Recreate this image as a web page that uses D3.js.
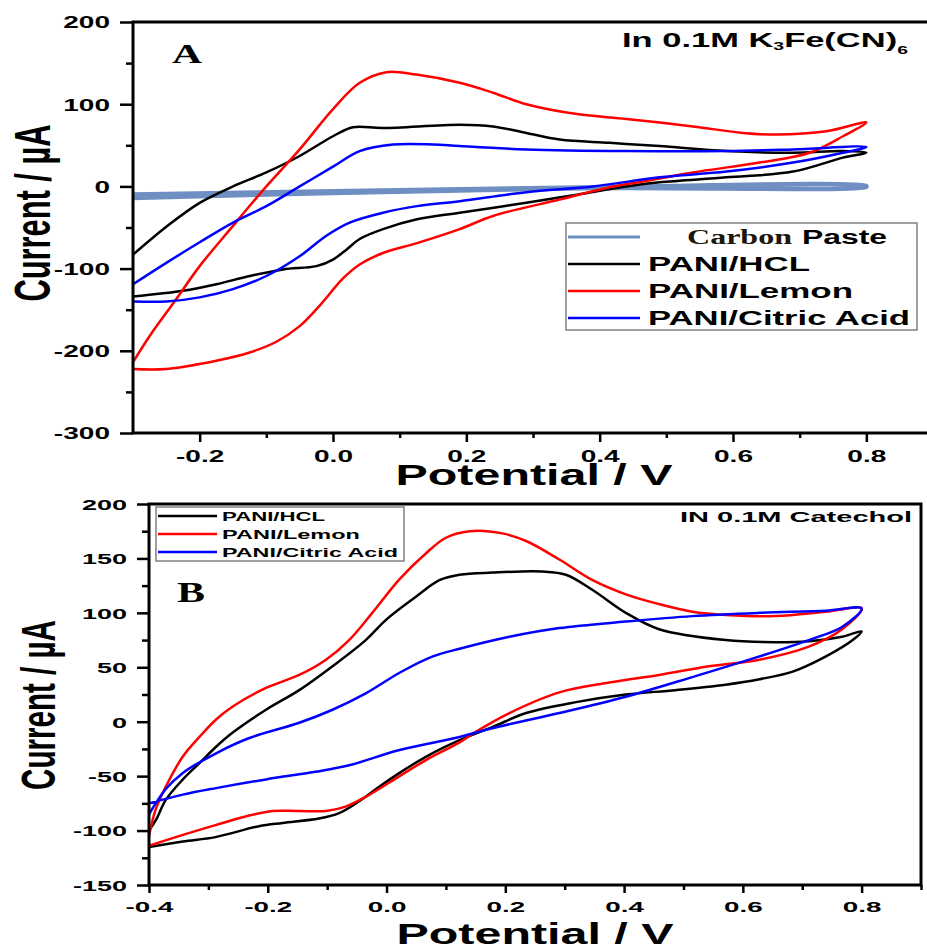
<!DOCTYPE html>
<html>
<head>
<meta charset="utf-8">
<script src="https://cdn.jsdelivr.net/npm/d3@7"></script>
<style>
  body { margin: 0; background: #fff; }
  svg { display: block; }
</style>
</head>
<body>
<div id="chart"></div>
<script>
// ---- data: cyclic voltammograms, [potential V, current uA], forward scan then reverse scan ----

// Panel A, in 0.1M K3Fe(CN)6
const carbonA = [[-0.30, -10], [0.00, -6], [0.40, -1], [0.80, 0.5],
                 [0.80, -0.5], [0.40, -2], [0.00, -8], [-0.30, -14]]
const hclA = [[-0.30, -83], [-0.25, -49], [-0.20, -20], [-0.15, 0], [-0.10, 17], [-0.05, 37], [0.00, 61], [0.03, 72],
              [0.075, 71], [0.19, 75], [0.24, 73], [0.29, 65], [0.34, 57], [0.415, 53], [0.49, 49], [0.59, 43],
              [0.69, 41], [0.765, 43], [0.80, 41],
              [0.765, 35], [0.69, 18], [0.59, 11], [0.49, 5], [0.44, 0], [0.366, -10], [0.29, -20], [0.19, -32],
              [0.126, -40], [0.075, -52], [0.04, -64], [0.02, -77], [0.00, -89], [-0.025, -97], [-0.075, -101],
              [-0.125, -109], [-0.175, -119], [-0.225, -127], [-0.30, -134]]
const lemonA = [[-0.30, -214], [-0.275, -182], [-0.235, -137], [-0.20, -97], [-0.15, -48], [-0.10, 0], [-0.05, 45],
                [0.00, 94], [0.04, 126], [0.08, 139], [0.125, 136], [0.19, 126], [0.24, 114], [0.29, 100], [0.366, 88],
                [0.44, 82], [0.54, 73], [0.615, 65], [0.665, 63], [0.74, 67], [0.80, 78],
                [0.765, 61], [0.715, 41], [0.64, 29], [0.54, 17], [0.465, 6], [0.415, -1], [0.34, -16], [0.24, -36],
                [0.19, -52], [0.126, -69], [0.075, -81], [0.04, -95], [0.015, -112], [-0.02, -145], [-0.05, -170],
                [-0.085, -189], [-0.125, -202], [-0.175, -212], [-0.25, -222], [-0.30, -222]]
const citricA = [[-0.30, -119], [-0.25, -93], [-0.20, -68], [-0.15, -44], [-0.10, -24], [-0.05, 0], [0.00, 24],
                 [0.04, 43], [0.09, 51], [0.15, 51], [0.19, 49], [0.29, 45], [0.44, 43], [0.59, 43], [0.69, 45], [0.80, 48],
                 [0.765, 41], [0.69, 29], [0.59, 18], [0.49, 11], [0.39, 0], [0.29, -7], [0.19, -18], [0.126, -24],
                 [0.075, -32], [0.025, -44], [-0.01, -60], [-0.05, -85], [-0.10, -109], [-0.15, -125], [-0.20, -135],
                 [-0.25, -140], [-0.30, -140]]

// Panel B, in 0.1M catechol
const hclB = [[-0.40, -100], [-0.388, -90], [-0.372, -72], [-0.343, -53], [-0.315, -38], [-0.287, -23], [-0.259, -10],
              [-0.203, 11], [-0.147, 29], [-0.091, 51], [-0.035, 75], [0.00, 94], [0.05, 115], [0.089, 130], [0.123, 135],
              [0.178, 137], [0.262, 138], [0.302, 135], [0.347, 121], [0.403, 100], [0.459, 85], [0.571, 75],
              [0.655, 73], [0.711, 74], [0.767, 78], [0.80, 83],
              [0.785, 75], [0.74, 60], [0.684, 46], [0.628, 39], [0.571, 34], [0.487, 29], [0.403, 25], [0.319, 18],
              [0.235, 8], [0.178, -5], [0.123, -17], [0.067, -32], [0.022, -47], [-0.013, -60], [-0.046, -73],
              [-0.08, -84], [-0.114, -89], [-0.175, -93], [-0.215, -96], [-0.288, -106], [-0.343, -110], [-0.40, -115]]
const lemonB = [[-0.40, -105], [-0.389, -81], [-0.372, -60], [-0.343, -32], [-0.315, -14], [-0.287, 2], [-0.259, 14],
                [-0.203, 31], [-0.147, 43], [-0.102, 57], [-0.063, 75], [-0.024, 100], [0.022, 131], [0.067, 155],
                [0.10, 169], [0.14, 175], [0.195, 173], [0.235, 166], [0.291, 149], [0.347, 130], [0.403, 117],
                [0.459, 108], [0.515, 101], [0.571, 98], [0.655, 97], [0.74, 101], [0.80, 104],
                [0.767, 85], [0.711, 69], [0.628, 57], [0.543, 51], [0.459, 43], [0.375, 36], [0.291, 27], [0.207, 8],
                [0.151, -9], [0.123, -19], [0.067, -35], [0.022, -50], [-0.035, -69], [-0.069, -78], [-0.102, -82],
                [-0.147, -82], [-0.192, -82], [-0.23, -86], [-0.288, -95], [-0.343, -104], [-0.40, -114]]
const citricB = [[-0.40, -85], [-0.372, -62], [-0.343, -47], [-0.287, -29], [-0.231, -15], [-0.147, -1], [-0.091, 11],
                 [-0.035, 26], [0.022, 45], [0.078, 60], [0.123, 67], [0.207, 78], [0.291, 86], [0.403, 92],
                 [0.515, 97], [0.628, 100], [0.74, 102], [0.80, 104],
                 [0.767, 87], [0.711, 75], [0.628, 60], [0.515, 41], [0.403, 23], [0.291, 8], [0.178, -6], [0.123, -14],
                 [0.022, -26], [-0.063, -40], [-0.12, -46], [-0.203, -53], [-0.287, -61], [-0.343, -67], [-0.40, -75]]

// axis ticks
const xMajorA = [-0.2, 0.0, 0.2, 0.4, 0.6, 0.8]
const xMinorA = [-0.1, 0.1, 0.3, 0.5, 0.7]
const yMajorA = [-300, -200, -100, 0, 100, 200]
const yMinorA = [-250, -150, -50, 50, 150]
const xMajorB = [-0.4, -0.2, 0.0, 0.2, 0.4, 0.6, 0.8]
const xMinorB = [-0.3, -0.1, 0.1, 0.3, 0.5, 0.7, 0.9]
const yMajorB = [-150, -100, -50, 0, 50, 100, 150, 200]
const yMinorB = [-125, -75, -25, 25, 75, 125, 175]

const seriesA = [
    { name: 'Carbon Paste', data: carbonA, color: '#6f8fc2', width: 4.5 },
    { name: 'PANI/HCL', data: hclA, color: '#000000', width: 2.5 },
    { name: 'PANI/Lemon', data: lemonA, color: '#ff0000', width: 2.5 },
    { name: 'PANI/Citric Acid', data: citricA, color: '#0000ff', width: 2.5 }
]
const seriesB = [
    { name: 'PANI/HCL', data: hclB, color: '#000000', width: 2.5 },
    { name: 'PANI/Lemon', data: lemonB, color: '#ff0000', width: 2.5 },
    { name: 'PANI/Citric Acid', data: citricB, color: '#0000ff', width: 2.5 }
]

const W = 927, H = 947
const SANS = '"Liberation Sans", Arial, sans-serif'
const SERIF = '"Liberation Serif", "Times New Roman", serif'

const svg = d3.select('#chart').append('svg')
    .attr('width', W)
    .attr('height', H)
    .style('font-family', SANS)
    .style('font-weight', 'bold')

// stretched text (the original figure is wide-stretched horizontally)
const label = (g, str, x, y, size, len, anchor = 'start', family = SANS) => g.append('text')
    .attr('x', x).attr('y', y)
    .attr('font-size', size)
    .attr('font-family', family)
    .attr('text-anchor', anchor)
    .attr('textLength', len)
    .attr('lengthAdjust', 'spacingAndGlyphs')
    .attr('fill', '#000')
    .text(str)

const drawPanel = (p) => {
    const g = svg.append('g')
    const x = d3.scaleLinear().domain(p.xDomain).range(p.xRange)
    const y = d3.scaleLinear().domain(p.yDomain).range(p.yRange)
    const [x0, x1] = p.xRange, [y0, y1] = p.yRange

    // curves
    const line = d3.line()
        .x(d => x(d[0]))
        .y(d => y(d[1]))
        .curve(d3.curveCatmullRom.alpha(0.5))
    g.append('g').selectAll('path')
        .data(p.series)
        .enter()
        .append('path')
        .attr('d', d => line(d.data))
        .attr('fill', 'none')
        .attr('stroke', d => d.color)
        .attr('stroke-width', d => d.width)
        .attr('stroke-linejoin', 'round')

    // y axis: minor then major
    const yAxis = (ticks, size, fmt) => g.append('g')
        .attr('transform', `translate(${x0},0)`)
        .call(d3.axisLeft(y).tickValues(ticks).tickSize(size).tickFormat(fmt))
        .call(a => a.select('.domain').remove())
        .call(a => a.selectAll('.tick line').attr('stroke', '#000').attr('stroke-width', 2.5))
        .call(a => a.selectAll('.tick text')
            .attr('x', 0).attr('dy', '0.36em')
            .attr('fill', '#000')
            .attr('font-size', p.yTickSize)
            .attr('font-family', SANS)
            .attr('transform', `translate(${-p.yTickGap},0) scale(${p.yTickSx},1)`))
    yAxis(p.yMinor, p.yMinorLen, '')
    yAxis(p.yMajor, p.yMajorLen, d => String(d))

    const xAxis = (ticks, size, fmt) => g.append('g')
        .attr('transform', `translate(0,${y0})`)
        .call(d3.axisBottom(x).tickValues(ticks).tickSize(size).tickFormat(fmt))
        .call(a => a.select('.domain').remove())
        .call(a => a.selectAll('.tick line').attr('stroke', '#000').attr('stroke-width', 2.5))
        .call(a => a.selectAll('.tick text')
            .attr('y', 0).attr('dy', 0)
            .attr('fill', '#000')
            .attr('font-size', p.xTickSize)
            .attr('font-family', SANS)
            .attr('transform', `translate(0,${p.xTickGap}) scale(${p.xTickSx},1)`))
    xAxis(p.xMinor, p.xMinorLen, '')
    xAxis(p.xMajor, p.xMajorLen, d => d.toFixed(1))

    // frame
    g.append('rect')
        .attr('x', x0).attr('y', y1)
        .attr('width', x1 - x0).attr('height', y0 - y1)
        .attr('fill', 'none')
        .attr('stroke', '#000')
        .attr('stroke-width', 3)

    // legend
    const L = p.legend
    g.append('rect')
        .attr('x', L.box[0]).attr('y', L.box[1])
        .attr('width', L.box[2]).attr('height', L.box[3])
        .attr('fill', '#fff')
        .attr('stroke', '#808080')
        .attr('stroke-width', 1.5)
    const rows = g.append('g').selectAll('g')
        .data(p.series)
        .enter()
        .append('g')
        .attr('transform', (d, i) => `translate(0,${L.top + i * L.pitch})`)
    rows.append('line')
        .attr('x1', L.lineX[0]).attr('x2', L.lineX[1])
        .attr('y1', -L.lineUp).attr('y2', -L.lineUp)
        .attr('stroke', d => d.color)
        .attr('stroke-width', d => Math.min(d.width, 3))
    rows.each(function (d, i) {
        const row = d3.select(this)
        if (d.name === 'Carbon Paste') {
            label(row, 'Carbon', L.textX + 39, 0, L.size, 105, 'start', SERIF).attr('fill', '#1e1608')
            label(row, 'Paste', L.textX + 154, 0, L.size, 85)
        } else {
            label(row, d.name, L.textX, 0, L.size, L.widths[i])
        }
    })

    // axis titles
    label(g, 'Potential / V', p.xTitle[0], p.xTitle[1], 30, 277, 'middle')
    g.append('text')
        .attr('transform', `translate(${p.yTitle[0]},${p.yTitle[1]}) rotate(-90)`)
        .attr('font-size', p.yTitle[2])
        .attr('font-family', SANS)
        .attr('text-anchor', 'middle')
        .attr('textLength', p.yTitle[3])
        .attr('lengthAdjust', 'spacingAndGlyphs')
        .text('Current / \u00b5A')

    // panel letter
    label(g, p.letter[0], p.letter[1], p.letter[2], p.letter[3], p.letter[4], 'start', SERIF)
    return g
}

const panelA = drawPanel({
    series: seriesA,
    xDomain: [-0.3, 0.9], xRange: [133, 933],
    yDomain: [-300, 200], yRange: [433, 22],
    xMajor: xMajorA, xMinor: xMinorA, yMajor: yMajorA, yMinor: yMinorA,
    yMajorLen: 13, yMinorLen: 7, xMajorLen: 9, xMinorLen: 5,
    yTickSize: 16.5, yTickSx: 1.7, yTickGap: 23,
    xTickSize: 16.5, xTickSx: 1.7, xTickGap: 29,
    legend: { box: [566, 223, 351, 107], top: 244, pitch: 27, lineX: [568, 640], lineUp: 7, textX: 648,
              size: 20, widths: [0, 162, 205, 262] },
    xTitle: [534, 485], yTitle: [50, 213, 50, 177],
    letter: ['A', 172, 63, 27, 30]
})

const panelB = drawPanel({
    series: seriesB,
    xDomain: [-0.4, 0.9], xRange: [149, 921],
    yDomain: [-150, 200], yRange: [885, 504],
    xMajor: xMajorB, xMinor: xMinorB, yMajor: yMajorB, yMinor: yMinorB,
    yMajorLen: 12, yMinorLen: 7, xMajorLen: 8, xMinorLen: 5,
    yTickSize: 15, yTickSx: 1.8, yTickGap: 22,
    xTickSize: 15, xTickSx: 1.85, xTickGap: 27,
    legend: { box: [156, 507, 248, 54], top: 521, pitch: 18, lineX: [158, 217], lineUp: 5, textX: 222,
              size: 13, widths: [103, 138, 176] },
    xTitle: [535, 944], yTitle: [55, 705, 49, 170],
    letter: ['B', 177, 602, 29, 28]
})

// condition labels
const tA = panelA.append('text')
    .attr('x', 622).attr('y', 47)
    .attr('font-size', 19.5)
    .attr('textLength', 286)
    .attr('lengthAdjust', 'spacingAndGlyphs')
tA.append('tspan').text('In 0.1M K')
tA.append('tspan').attr('font-size', 11).attr('dy', 3).text('3')
tA.append('tspan').attr('dy', -3).text('Fe(CN)')
tA.append('tspan').attr('font-size', 11).attr('dy', 7).text('6')

label(panelB, 'IN 0.1M Catechol', 680, 522, 15.5, 232)
</script>
</body>
</html>
